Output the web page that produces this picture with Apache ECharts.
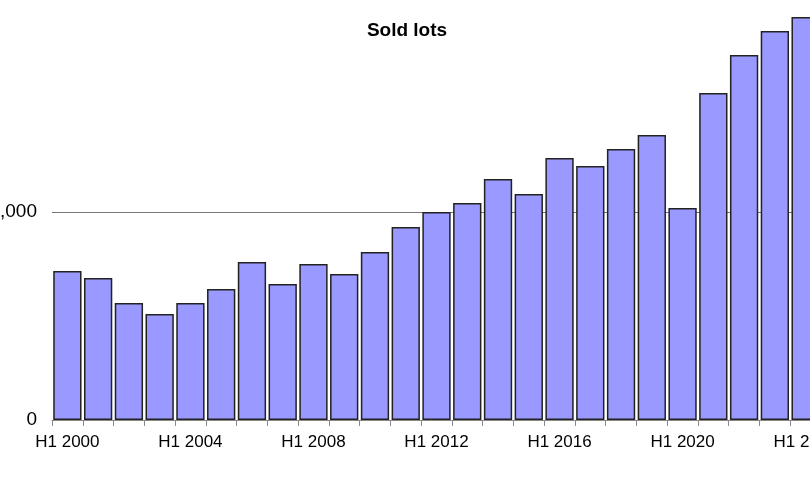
<!DOCTYPE html>
<html><head><meta charset="utf-8">
<script src="https://cdn.jsdelivr.net/npm/echarts@6/dist/echarts.min.js"></script>
<style>html,body{margin:0;padding:0;background:#fff}#c{width:810px;height:480px}</style>
</head><body><div id="c"></div>
<script>
const categories = ['H1 2000','H1 2001','H1 2002','H1 2003','H1 2004','H1 2005','H1 2006','H1 2007','H1 2008','H1 2009','H1 2010','H1 2011','H1 2012','H1 2013','H1 2014','H1 2015','H1 2016','H1 2017','H1 2018','H1 2019','H1 2020','H1 2021','H1 2022','H1 2023','H1 2024'];
const soldLots = [716,683,562,510,562,630,760,654,750,702,808,928,1000,1043,1159,1087,1260,1221,1303,1370,1019,1572,1755,1870,1938];
const gridValue = 1000;
const chart = echarts.init(document.getElementById('c'));
chart.setOption({
  animation:false,
  title:{text:'Sold lots',left:402,top:16,textAlign:'center',textStyle:{fontFamily:'Liberation Sans',fontWeight:'bold',fontSize:19,color:'#000'}},
  grid:{left:52,top:4,width:769,height:416,containLabel:false,outerBoundsMode:'none'},
  xAxis:{type:'category',data:categories,
    axisLine:{lineStyle:{color:'#888',width:1}},
    axisTick:{show:true,alignWithLabel:false,interval:0,length:6,lineStyle:{color:'#888'}},
    axisLabel:{interval:3,margin:14,fontFamily:'Liberation Sans',fontSize:17,color:'#000'}},
  yAxis:{type:'value',min:0,max:2000,interval:1000,
    axisLine:{show:false},axisTick:{show:false},
    axisLabel:{margin:15,fontFamily:'Liberation Sans',fontSize:19,color:'#000',
      formatter:v=>v===2000?'':(v===0?'0':v.toLocaleString('en-US'))},
    splitLine:{show:false}},
  series:[{type:'bar',data:soldLots,barCategoryGap:'8%',
    itemStyle:{color:'#9999ff',borderColor:'#222',borderWidth:1.5},
    markLine:{silent:true,symbol:'none',label:{show:false},z:0,
      lineStyle:{color:'#777',width:1,type:'solid'},data:[{yAxis:gridValue}]}}]
});
</script></body></html>
